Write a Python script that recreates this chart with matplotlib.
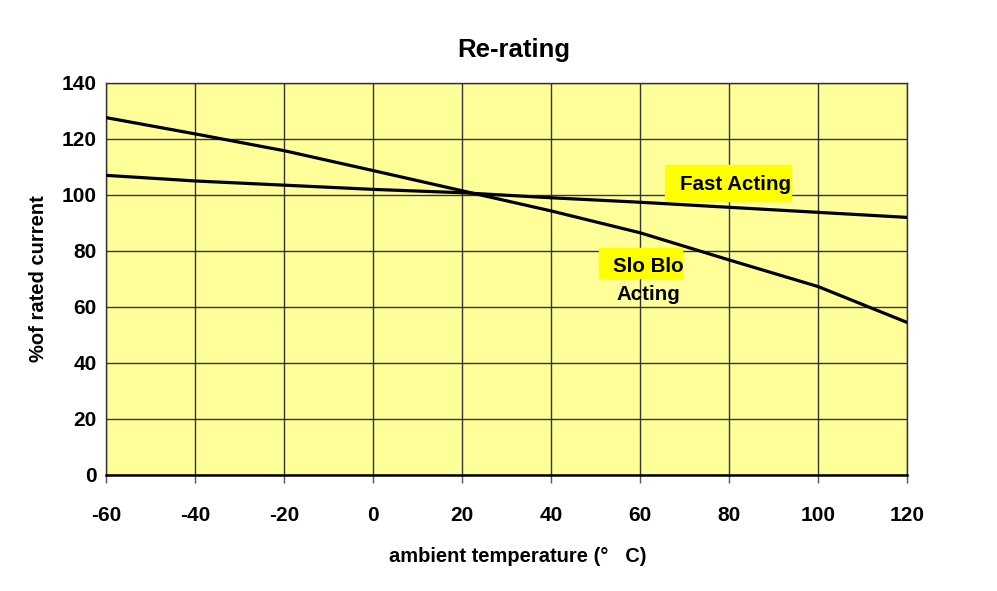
import matplotlib
matplotlib.use('Agg')
import matplotlib.pyplot as plt
from matplotlib.patches import Rectangle

plt.rcParams['font.family'] = ['Liberation Sans', 'DejaVu Sans']
plt.rcParams['font.weight'] = 'bold'
plt.rcParams['axes.unicode_minus'] = False

temps = [-60, -40, -20, 0, 20, 40, 60, 80, 100, 120]
fast_acting = [107, 105, 103.5, 102, 100.8, 99, 97.4, 95.6, 93.8, 92]
slo_blo = [127.6, 121.8, 115.8, 108.7, 101.5, 94.3, 86.5, 76.8, 67.3, 54.5]
x_ticks = [-60, -40, -20, 0, 20, 40, 60, 80, 100, 120]
y_ticks = [0, 20, 40, 60, 80, 100, 120, 140]

fig = plt.figure(figsize=(9.97, 5.91), dpi=100)
ax = fig.add_axes([0.1068, 0.1963, 0.8029, 0.6633])
ax.set_facecolor('#FFFF99')

ax.plot(temps, fast_acting, color='black', lw=2.3, zorder=3)
ax.plot(temps, slo_blo, color='black', lw=2.3, zorder=3)

ax.set_xlim(-60, 120)
ax.set_ylim(0, 140)
ax.set_xticks(x_ticks)
ax.set_yticks(y_ticks)
ax.grid(True, color='#333333', lw=1, zorder=1)
ax.set_axisbelow(True)

ax.tick_params(axis='x', length=6, width=1, color='#555555', pad=16, labelsize=15)
ax.tick_params(axis='y', length=0, pad=7, labelsize=15)
for lbl in ax.get_xticklabels() + ax.get_yticklabels():
    lbl.set_fontweight('bold')

for s in ['top', 'right', 'left']:
    ax.spines[s].set_color('#333333')
    ax.spines[s].set_linewidth(1)
ax.spines['bottom'].set_linewidth(1.8)

# label boxes
ax.add_patch(Rectangle((65.7, 98.0), 28.3, 12.7, color='#FFFF00', zorder=2))
ax.text(69.0, 103.9, 'Fast Acting', fontsize=14.8, fontweight='bold', va='center', ha='left', zorder=4)
ax.add_patch(Rectangle((50.8, 70.4), 18.6, 10.7, color='#FFFF00', zorder=2))
ax.text(53.8, 74.4, 'Slo Blo', fontsize=14.8, fontweight='bold', va='center', ha='left', zorder=4)
ax.text(54.6, 64.3, 'Acting', fontsize=14.8, fontweight='bold', va='center', ha='left', zorder=4)

ax.set_title('Re-rating', fontsize=18.5, fontweight='bold', pad=19, x=0.509)
ax.set_xlabel('ambient temperature (°   C)', fontsize=14.5, fontweight='bold', labelpad=16, x=0.514)
ax.set_ylabel('%of rated current', fontsize=14.5, fontweight='bold', labelpad=10)

fig.savefig('out.png', dpi=100)
